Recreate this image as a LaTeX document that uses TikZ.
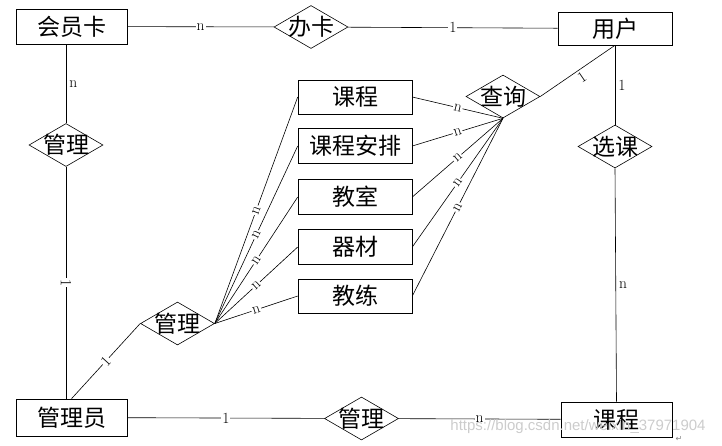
\documentclass[tikz,border=0pt]{standalone}
\usepackage{fontspec}
\usepackage{tikz}
\usetikzlibrary{shapes.geometric}
\newfontfamily\cjk{Noto Sans CJK SC}
\newfontfamily\symfont{DejaVu Sans}
\newfontfamily\wmfont{Liberation Sans}

\begin{document}
\begin{tikzpicture}[x=1pt,y=-1pt,line width=0.6pt]

        \useasboundingbox (0,0) rectangle (722,445);

        \begin{scope}[every node/.style={rectangle,draw,inner sep=0pt,minimum height=35pt,
                      font=\cjk\fontsize{23}{23}\selectfont}]
          \node[minimum width=111pt] (e1) at (71.5,26.5)  {会员卡};
          \node[minimum width=114pt, minimum height=33pt] (e2) at (615,28.5) {用户};
          \node[minimum width=111pt, minimum height=37pt] (e3) at (71.5,417.5) {管理员};
          \node[minimum width=111pt] (e4) at (616.5,419.5) {课程};
          \node[minimum width=114pt, minimum height=34pt] (k1) at (355,97)  {课程};
          \node[minimum width=114pt] (k2) at (355,146) {课程安排};
          \node[minimum width=114pt] (k3) at (355,197) {教室};
          \node[minimum width=114pt] (k4) at (355,247) {器材};
          \node[minimum width=114pt, minimum height=34pt] (k5) at (355,296) {教练};
        \end{scope}

        \begin{scope}[every node/.style={diamond,draw,inner sep=-8pt,minimum width=74pt,
                      minimum height=43pt,font=\cjk\fontsize{23}{23}\selectfont}]
          \node (r1) at (311,27)      {办卡};
          \node (r2) at (66,145)      {管理};
          \node (r3) at (503,96.5)    {查询};
          \node (r4) at (615,146.5)   {选课};
          \node (r5) at (177.5,323.5) {管理};
          \node (r6) at (361.5,418.5) {管理};
        \end{scope}

        \begin{scope}[every node/.style={fill=white, inner sep=1pt, font=\fontsize{15.5}{15.5}\selectfont}]

          \begin{scope}[every edge/.style={draw}]
            \path (e1)                edge node {n} (r1);
            \path (r1)                edge node {1} (e2);
            \path (e1.south -| r2.north) edge node[right=2pt, fill=none] {n} (r2.north);
            \path (r2.south)          edge node[sloped] {1} (e3.north -| r2.south);
            \path (e3.north)          edge node[sloped] {1} (r5.west);
            \path (r5.east) edge node[sloped] {n} (k1.west);
            \path (r5.east) edge node[sloped] {n} (k2.west);
            \path (r5.east) edge node[sloped] {n} (k3.west);
            \path (r5.east) edge node[sloped] {n} (k4.west);
            \path (r5.east) edge node[sloped] {n} (k5.west);
            \path (k1.east) edge node[sloped] {n} (r3.south);
            \path (k2.east) edge node[sloped] {n} (r3.south);
            \path (k3.east) edge node[sloped] {n} (r3.south);
            \path (k4.east) edge node[sloped] {n} (r3.south);
            \path (k5.east) edge node[sloped] {n} (r3.south);
            \path (r3.east) edge node[sloped, below=1pt, fill=none] {1} (e2.south);
            \path (e2.south) edge node[right=2pt, fill=none] {1} (r4.north);
            \path (r4.south) edge node[right=2pt, fill=none] {n} (e4.north);
            \path (e3)      edge node {1} (r6);
            \path (r6)      edge node {n} (e4);
          \end{scope}
        \end{scope}

        % watermark of the source page
        \node[text=gray!40, font=\wmfont\fontsize{15}{15}\selectfont] (wm) at (578,427)
          {https://blog.csdn.net/weixin\_37971904};
        \node[text=gray, font=\symfont\fontsize{8}{8}\selectfont] (ret) at (679,439) {↵};

      \end{tikzpicture}
\end{document}
